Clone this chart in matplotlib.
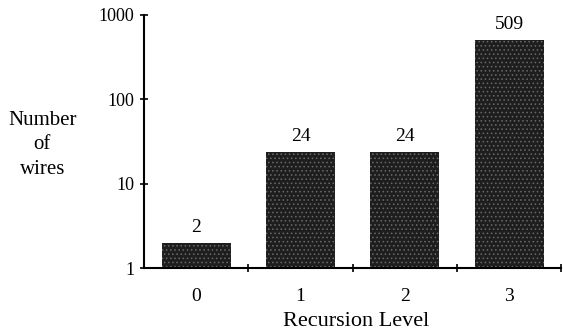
import numpy as np
import matplotlib.pyplot as plt
from matplotlib.ticker import FixedLocator, NullLocator, FixedFormatter

plt.rcParams['font.family'] = ['Liberation Serif']
plt.rcParams['hatch.linewidth'] = 0.6

# data
levels = ['0', '1', '2', '3']
wires = [2, 24, 24, 509]
yticks = [1, 10, 100, 1000]

fig = plt.figure(figsize=(5.63, 3.31), dpi=100)
ax = fig.add_axes([0.256, 0.190, 0.741, 0.765])

x = np.arange(len(levels))
ax.bar(x, wires, width=0.66, color='#1e1e1e', edgecolor='#6a6a6a',
       hatch='....', linewidth=0)
for xi, v in zip(x, wires):
    ax.annotate(str(v), (xi, v), xytext=(0, 5), textcoords='offset points',
                ha='center', va='bottom', fontsize=14)

ax.set_yscale('log')
ax.set_ylim(1, 1000)
ax.set_xlim(-0.5, 3.5)

ax.yaxis.set_major_locator(FixedLocator(yticks))
ax.yaxis.set_major_formatter(FixedFormatter([str(t) for t in yticks]))
ax.yaxis.set_minor_locator(NullLocator())
ax.xaxis.set_major_locator(FixedLocator(x))
ax.xaxis.set_major_formatter(FixedFormatter(levels))
ax.xaxis.set_minor_locator(FixedLocator(x + 0.5))

ax.tick_params(axis='y', which='major', direction='inout', length=6, width=1.2,
               labelsize=13, pad=4)
ax.tick_params(axis='x', which='major', length=0, labelsize=14, pad=14)
ax.tick_params(axis='x', which='minor', direction='inout', length=6, width=1.2)

for s in ['top', 'right']:
    ax.spines[s].set_visible(False)
ax.spines['left'].set_linewidth(1.5)
ax.spines['bottom'].set_linewidth(1.5)

fig.text(0.632, 0.014, 'Recursion Level', ha='center', va='baseline', fontsize=16)
fig.text(0.075, 0.562, 'Number\nof\nwires', ha='center', va='center',
         fontsize=15, linespacing=1.4)

fig.savefig('out.png', dpi=100)
